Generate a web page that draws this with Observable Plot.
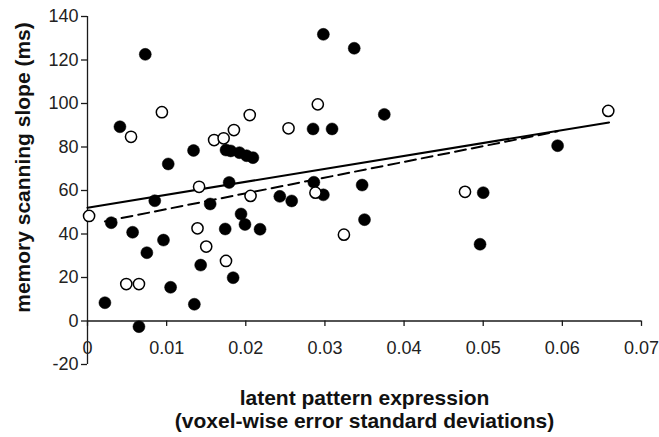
<!DOCTYPE html>
<html>
<head>
<meta charset="utf-8">
<script src="https://cdn.jsdelivr.net/npm/d3@7"></script>
<script src="https://cdn.jsdelivr.net/npm/@observablehq/plot@0.6"></script>
<style>
  html, body { margin: 0; padding: 0; background: white; }
</style>
</head>
<body>
<div id="chart"></div>
<script>
// Filled circles
const filledX = [0.0022, 0.0030, 0.0041, 0.0057, 0.0065, 0.0073, 0.0075, 0.0085, 0.0096, 0.0102,
                 0.0105, 0.0134, 0.0135, 0.0143, 0.0155, 0.0174, 0.0175, 0.0179, 0.0181, 0.0184,
                 0.0194, 0.0192, 0.0199, 0.0201, 0.0209, 0.0218, 0.0243, 0.0258, 0.0285, 0.0286,
                 0.0298, 0.0298, 0.0309, 0.0337, 0.0347, 0.0350, 0.0375, 0.0496, 0.0500, 0.0594];
const filledY = [8.4, 45.2, 89.3, 40.8, -2.6, 122.6, 31.4, 55.3, 37.2, 72.2,
                 15.5, 78.4, 7.7, 25.7, 53.8, 42.3, 78.6, 63.7, 78.2, 19.9,
                 49.2, 77.4, 44.4, 76.0, 75.1, 42.2, 57.3, 55.2, 88.3, 63.8,
                 58.0, 131.8, 88.3, 125.4, 62.5, 46.6, 95.0, 35.3, 59.0, 80.6];
// Open circles
const openX = [0.0002, 0.0049, 0.0055, 0.0065, 0.0094, 0.0139, 0.0141, 0.0150, 0.0160, 0.0172,
               0.0175, 0.0185, 0.0205, 0.0206, 0.0254, 0.0288, 0.0291, 0.0324, 0.0477, 0.0658];
const openY = [48.3, 17.0, 84.7, 17.0, 96.0, 42.6, 61.7, 34.2, 83.2, 84.0,
               27.6, 87.8, 94.7, 57.5, 88.6, 59.0, 99.6, 39.7, 59.4, 96.6];
// Regression lines (end points)
const fitAllX = [0.0, 0.0659];
const fitAllY = [52.1, 91.3];
const fitFilledX = [0.0022, 0.0594];
const fitFilledY = [45.8, 87.2];
// Ticks
const xTicks = [0, 0.01, 0.02, 0.03, 0.04, 0.05, 0.06, 0.07];
const yTicks = [-20, 0, 20, 40, 60, 80, 100, 120, 140];
const xTickLabels = ["0", "0.01", "0.02", "0.03", "0.04", "0.05", "0.06", "0.07"];
const yTickLabels = ["-20", "0", "20", "40", "60", "80", "100", "120", "140"];
const yTitle = "memory scanning slope (ms)";
const xTitle = "latent pattern expression\n(voxel-wise error standard deviations)";

const filled = filledX.map((x, i) => ({x, y: filledY[i]}));
const open = openX.map((x, i) => ({x, y: openY[i]}));
const fitAll = fitAllX.map((x, i) => ({x, y: fitAllY[i]}));
const fitFilled = fitFilledX.map((x, i) => ({x, y: fitFilledY[i]}));

const axisColor = "#1a1a1a";

const chart = Plot.plot({
  width: 659,
  height: 437,
  marginLeft: 87,
  marginRight: 18,
  marginTop: 16,
  marginBottom: 73,
  x: {domain: [0, 0.07], axis: null},
  y: {domain: [-20, 140], axis: null},
  style: {fontFamily: "'Liberation Sans', Arial, Helvetica, sans-serif", background: "white", color: "black"},
  marks: [
    Plot.ruleY([0], {x1: 0, x2: 0.07, stroke: axisColor, strokeWidth: 1.3}),
    Plot.ruleX([0], {y1: -20, y2: 140, stroke: axisColor, strokeWidth: 1.3}),
    Plot.ruleX(xTicks, {x: d => d, y1: 0, y2: -2.5, stroke: axisColor, strokeWidth: 1.3}),
    Plot.text(xTicks, {x: d => d, y: 0, dy: 27, text: (d, i) => xTickLabels[i], fontSize: 18, fill: "#222"}),
    Plot.axisY(yTicks, {tickSize: 6, tickPadding: 3, fontSize: 18, label: null,
      tickFormat: d => yTickLabels[yTicks.indexOf(d)], stroke: axisColor, strokeWidth: 1.3, fill: "#222"}),
    Plot.line(fitAll, {x: "x", y: "y", stroke: "black", strokeWidth: 2}),
    Plot.line(fitFilled, {x: "x", y: "y", stroke: "black", strokeWidth: 2, strokeDasharray: "11,6"}),
    Plot.dot(filled, {x: "x", y: "y", r: 6, fill: "black", stroke: "black", strokeWidth: 0.5}),
    Plot.dot(open, {x: "x", y: "y", r: 5.6, fill: "white", stroke: "black", strokeWidth: 1.5}),
    Plot.text([yTitle], {text: d => d, frameAnchor: "left", textAnchor: "middle", dx: -64, dy: -23, rotate: -90,
      fontSize: 21, fontWeight: "bold", fill: "#111"}),
    Plot.text([xTitle], {text: d => d, frameAnchor: "bottom", dy: 24, lineAnchor: "top", lineHeight: 1.1,
      fontSize: 21, fontWeight: "bold", fill: "#111"})
  ]
});
document.getElementById("chart").appendChild(chart);
</script>
</body>
</html>
